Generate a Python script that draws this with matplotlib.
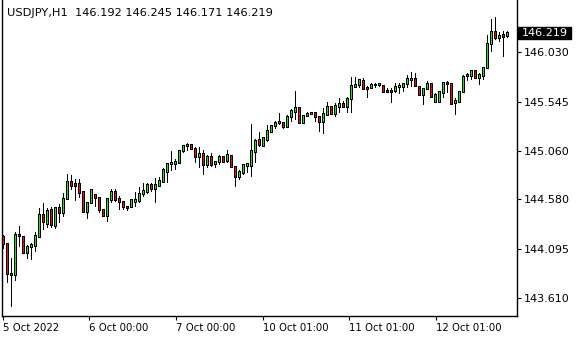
import matplotlib
matplotlib.use('Agg')
import matplotlib.pyplot as plt
import numpy as np
from matplotlib.patches import Rectangle

symbol_title = "USDJPY,H1  146.192 146.245 146.171 146.219"

opens = [144.209, 144.137, 143.841, 143.831, 144.224, 144.209, 144.056, 144.115, 144.123, 144.209,
         144.426, 144.342, 144.480, 144.317, 144.492, 144.448, 144.580, 144.748, 144.734, 144.728,
         144.655, 144.458, 144.541, 144.623, 144.590, 144.475, 144.419, 144.574, 144.653, 144.583,
         144.554, 144.505, 144.508, 144.559, 144.567, 144.630, 144.655, 144.722, 144.679, 144.715,
         144.754, 144.853, 144.924, 144.926, 144.941, 145.060, 145.106, 145.116, 145.074, 145.001,
         145.027, 144.919, 145.001, 144.926, 144.945, 145.001, 144.961, 145.008, 144.896, 144.803,
         144.843, 144.914, 144.909, 145.050, 145.165, 145.106, 145.165, 145.247, 145.303, 145.330,
         145.336, 145.296, 145.389, 145.444, 145.478, 145.336, 145.402, 145.422, 145.429, 145.389,
         145.346, 145.412, 145.488, 145.422, 145.494, 145.520, 145.488, 145.567, 145.691, 145.708,
         145.750, 145.675, 145.675, 145.703, 145.705, 145.698, 145.646, 145.646, 145.652, 145.685,
         145.685, 145.718, 145.757, 145.764, 145.685, 145.609, 145.665, 145.718, 145.543, 145.543,
         145.632, 145.725, 145.718, 145.527, 145.537, 145.636, 145.793, 145.799, 145.846, 145.780,
         145.799, 145.872, 146.112, 146.233, 146.168, 146.196, 146.192]

highs = [144.228, 144.145, 144.002, 144.258, 144.317, 144.222, 144.126, 144.154, 144.261, 144.492,
         144.544, 144.492, 144.505, 144.502, 144.531, 144.646, 144.830, 144.825, 144.778, 144.778,
         144.662, 144.545, 144.682, 144.633, 144.596, 144.482, 144.596, 144.679, 144.682, 144.616,
         144.567, 144.514, 144.580, 144.655, 144.702, 144.741, 144.746, 144.746, 144.791, 144.800,
         144.894, 144.943, 145.060, 144.978, 145.067, 145.116, 145.133, 145.121, 145.099, 145.099,
         145.067, 145.017, 145.034, 144.951, 145.017, 145.008, 145.067, 145.017, 144.902, 144.869,
         144.929, 144.936, 145.323, 145.172, 145.247, 145.192, 145.313, 145.313, 145.356, 145.429,
         145.346, 145.412, 145.468, 145.652, 145.494, 145.412, 145.444, 145.444, 145.435, 145.402,
         145.478, 145.543, 145.494, 145.533, 145.577, 145.553, 145.592, 145.784, 145.790, 145.764,
         145.774, 145.698, 145.730, 145.725, 145.730, 145.708, 145.675, 145.675, 145.730, 145.725,
         145.730, 145.806, 145.839, 145.823, 145.691, 145.675, 145.750, 145.725, 145.626, 145.652,
         145.740, 145.750, 145.725, 145.577, 145.642, 145.806, 145.829, 145.856, 145.856, 145.823,
         145.888, 146.201, 146.356, 146.375, 146.233, 146.243, 146.245]

lows = [144.090, 143.760, 143.514, 143.775, 144.113, 144.041, 143.992, 143.987, 144.063, 144.205,
        144.278, 144.300, 144.294, 144.285, 144.350, 144.409, 144.576, 144.672, 144.567, 144.590,
        144.452, 144.383, 144.534, 144.502, 144.442, 144.409, 144.360, 144.541, 144.557, 144.475,
        144.475, 144.468, 144.502, 144.505, 144.544, 144.603, 144.633, 144.648, 144.547, 144.705,
        144.738, 144.738, 144.863, 144.869, 144.936, 145.034, 145.060, 145.069, 144.936, 144.886,
        144.820, 144.886, 144.896, 144.886, 144.919, 144.936, 144.936, 144.886, 144.705, 144.771,
        144.820, 144.837, 144.803, 144.936, 145.099, 145.099, 145.149, 145.231, 145.271, 145.313,
        145.271, 145.291, 145.346, 145.363, 145.323, 145.330, 145.395, 145.412, 145.346, 145.247,
        145.224, 145.402, 145.412, 145.395, 145.429, 145.478, 145.429, 145.435, 145.685, 145.675,
        145.658, 145.577, 145.665, 145.675, 145.691, 145.626, 145.626, 145.527, 145.626, 145.619,
        145.642, 145.675, 145.691, 145.691, 145.599, 145.510, 145.658, 145.590, 145.527, 145.533,
        145.577, 145.626, 145.510, 145.412, 145.527, 145.632, 145.750, 145.757, 145.774, 145.708,
        145.757, 145.868, 146.036, 146.152, 146.135, 145.981, 146.171]

closes = [144.140, 143.841, 143.834, 144.225, 144.214, 144.056, 144.113, 144.130, 144.218, 144.426,
          144.352, 144.465, 144.332, 144.492, 144.448, 144.583, 144.748, 144.715, 144.715, 144.646,
          144.458, 144.541, 144.672, 144.590, 144.475, 144.419, 144.583, 144.653, 144.574, 144.554,
          144.502, 144.492, 144.574, 144.571, 144.633, 144.662, 144.722, 144.679, 144.722, 144.761,
          144.869, 144.929, 144.936, 144.951, 145.057, 145.106, 145.116, 145.074, 145.001, 145.027,
          144.919, 145.001, 144.919, 144.945, 145.001, 144.951, 145.017, 144.896, 144.800, 144.850,
          144.919, 144.924, 145.060, 145.158, 145.116, 145.182, 145.257, 145.303, 145.336, 145.340,
          145.291, 145.395, 145.454, 145.478, 145.330, 145.402, 145.422, 145.432, 145.389, 145.346,
          145.422, 145.494, 145.422, 145.501, 145.520, 145.488, 145.567, 145.695, 145.708, 145.757,
          145.665, 145.665, 145.708, 145.711, 145.718, 145.642, 145.639, 145.639, 145.685, 145.695,
          145.718, 145.764, 145.767, 145.698, 145.609, 145.665, 145.718, 145.592, 145.609, 145.642,
          145.730, 145.718, 145.520, 145.553, 145.636, 145.790, 145.803, 145.846, 145.780, 145.806,
          145.872, 146.112, 146.233, 146.168, 146.191, 146.186, 146.219]

price_ticks = [146.030, 145.545, 145.060, 144.580, 144.095, 143.610]
time_labels = ["5 Oct 2022", "6 Oct 00:00", "7 Oct 00:00", "10 Oct 01:00", "11 Oct 01:00", "12 Oct 01:00"]
time_label_bars = [-0.2, 21.45, 43.125, 64.8, 86.45, 108.125]

W, H = 580, 340
fig = plt.figure(figsize=(W / 100, H / 100), dpi=100)
fig.patch.set_facecolor('white')

ax_left, ax_right, ax_top, ax_bottom = 2, 517, 0, 316
ax = fig.add_axes([ax_left / W, 1 - ax_bottom / H, (ax_right - ax_left) / W, (ax_bottom - ax_top) / H])
ax.set_facecolor('white')

ylo, yhi = 143.430, 146.546
px = (yhi - ylo) / (ax_bottom - ax_top)   # price per pixel

o = np.array(opens); h = np.array(highs); l = np.array(lows); c = np.array(closes)
x = np.arange(len(o))
bull = c >= o
body_bottom = np.minimum(o, c)
body_height = np.abs(c - o)
colors = list(np.where(bull, '#22dd22', '#e01010'))

# wicks (1 px wide rectangles so they align with the body centre)
ax.bar(x, h - l, bottom=l, width=0.25, color='black', linewidth=0, zorder=2, antialiased=False)
# body outline and coloured fill
ax.bar(x, body_height + 2 * px, bottom=body_bottom - px, width=0.75, color='black',
       linewidth=0, zorder=3, antialiased=False)
ax.bar(x, body_height, bottom=body_bottom, width=0.25, color=colors,
       linewidth=0, zorder=4, antialiased=False)

ax.set_xlim(-0.375, 128.375)
ax.set_ylim(ylo, yhi)

for side in ['left', 'bottom', 'right']:
    ax.spines[side].set_linewidth(1.0)
    ax.spines[side].set_color('black')
ax.spines['top'].set_visible(False)

ax.yaxis.tick_right()
ax.set_yticks(price_ticks)
ax.set_yticklabels([f"{v:.3f}" for v in price_ticks])
ax.tick_params(axis='y', direction='out', length=3, width=0.8, pad=2, labelsize=8, colors='black')

ax.set_xticks(time_label_bars)
ax.set_xticklabels(time_labels)
ax.tick_params(axis='x', direction='out', length=3, width=0.8, pad=2, labelsize=7.3, colors='black')
for lbl in ax.get_xticklabels():
    lbl.set_horizontalalignment('left')

fig.text(7 / W, 1 - 13.5 / H, symbol_title, fontsize=8.2, color='black', ha='left', va='center')

fig.canvas.draw()
ydisp = ax.transData.transform((0, closes[-1]))[1]
box_h = 12
box = Rectangle(((ax_right + 1) / W, (ydisp - box_h / 2) / H), 53 / W, box_h / H,
                transform=fig.transFigure, facecolor='black', edgecolor='black', zorder=5)
fig.patches.append(box)
fig.text((ax_right + 5) / W, ydisp / H, f"{closes[-1]:.3f}", fontsize=8, color='white',
         ha='left', va='center', zorder=6)

fig.savefig('out.png', dpi=100, facecolor='white')
